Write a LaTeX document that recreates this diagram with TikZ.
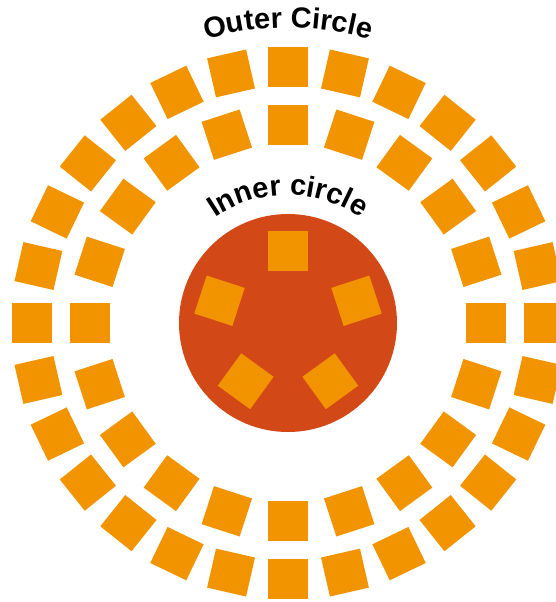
\documentclass[tikz,border=0pt]{standalone}
\usepackage{fontspec}
\setmainfont{Liberation Sans}
\usepackage{tikz}
\usetikzlibrary{
  decorations.text
}
\definecolor{TileOrange}{RGB}{242,148,0}
\definecolor{CoreRed}{RGB}{211,72,23}
\tikzset{
  tile/.style={
    rectangle,
    fill=TileOrange,
    minimum size=40pt,
    inner sep=0pt
  },
  core/.style={
    circle,
    fill=CoreRed,
    minimum size=218pt,
    inner sep=0pt
  },
  ringlabel/.style={
    decorate,
    decoration={text along path, text align=center, text={#1}}
  }
}

\begin{document}
\begin{tikzpicture}[x=1pt,y=1pt]
  \useasboundingbox (-288,-279) rectangle (268,323);

  % outer ring: 28 tiles
  \foreach \i in {0,...,27} {
    \pgfmathsetmacro{\a}{\i*360/28}
    \node[tile, rotate=\a] (outer\i) at (\a:256pt) {};
  }
  % second ring: 20 tiles
  \foreach \i in {0,...,19} {
    \pgfmathsetmacro{\a}{\i*18}
    \node[tile, rotate=\a] (ring\i) at (\a:198pt) {};
  }

  \node[core] (core) at (0,0) {};
  % five tiles inside the core
  \foreach \i in {0,...,4} {
    \pgfmathsetmacro{\a}{90+\i*72}
    \node[tile, rotate=\a] (inner\i) at (\a:72pt) {};
  }

  \path[ringlabel={|\fontsize{29}{29}\selectfont\bfseries|Outer Circle}]
    (160:295pt) arc[start angle=160, end angle=20, radius=295pt];
  \path[ringlabel={|\fontsize{29}{29}\selectfont\bfseries|Inner circle}]
    (170:128pt) arc[start angle=170, end angle=10, radius=128pt];
\end{tikzpicture}
\end{document}
